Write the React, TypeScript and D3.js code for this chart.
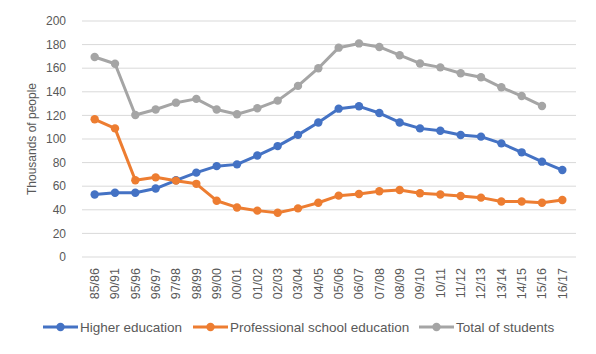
import React from 'react';
import * as d3 from 'd3';

const years = [
  '85/86', '90/91', '95/96', '96/97', '97/98', '98/99', '99/00', '00/01',
  '01/02', '02/03', '03/04', '04/05', '05/06', '06/07', '07/08', '08/09',
  '09/10', '10/11', '11/12', '12/13', '13/14', '14/15', '15/16', '16/17',
];

const higher = [
  53, 54.5, 54.5, 58, 65, 71.5, 77, 78.5, 86, 94, 103.5, 114,
  125.7, 127.7, 122, 114, 109, 107, 103.4, 102, 96.3, 88.7, 80.8, 73.7,
];

const professional = [
  116.7, 109, 65, 67.5, 64.7, 62, 47.7, 42, 39.3, 37.5, 41.2, 46,
  52, 53.4, 55.7, 56.8, 54, 53, 51.7, 50.3, 47, 47, 46, 48.3,
];

// no value for 16/17
const total = [
  169.5, 163.8, 120.3, 125, 130.8, 134, 125, 121, 126, 132.5, 145, 160,
  177.4, 181, 178, 171, 164, 160.7, 155.7, 152.3, 143.8, 136.4, 128, null,
];

const yTicks = [0, 20, 40, 60, 80, 100, 120, 140, 160, 180, 200];

const seriesList = [
  { name: 'Higher education', values: higher, color: '#4472C4' },
  { name: 'Professional school education', values: professional, color: '#ED7D31' },
  { name: 'Total of students', values: total, color: '#A5A5A5' },
];

const W = 596;
const H = 354;
const font = '"Liberation Sans", Arial, sans-serif';
const textColor = '#595959';

const App = () => {
  const x = d3.scaleBand<string>().domain(years).range([84.5, 572.5]);
  const y = d3.scaleLinear().domain([0, 200]).range([257, 21]);
  const cx = (d: string) => (x(d) as number) + x.bandwidth() / 2;

  const line = d3.line<number | null>()
    .defined(d => d != null)
    .x((d, i) => cx(years[i]))
    .y(d => y(d as number));

  const legendPos = [
    { x0: 43, text: 80 },
    { x0: 193, text: 230 },
    { x0: 419, text: 456 },
  ];

  return (
    <svg width={W} height={H} style={{ position: 'absolute', left: 0, top: 0 }} fontFamily={font}>
      <rect width={W} height={H} fill="#fff" />

      {yTicks.map(t => (
        <g key={t}>
          <line x1={82} x2={576} y1={y(t)} y2={y(t)} stroke="#D9D9D9" strokeWidth={1} />
          <text x={66} y={y(t)} dy="0.35em" textAnchor="end" fontSize={12} fill={textColor}>{t}</text>
        </g>
      ))}

      <text
        transform={`translate(36,${(y(0) + y(200)) / 2 + 0}) rotate(-90)`}
        textAnchor="middle"
        fontSize={12}
        fill={textColor}
      >
        Thousands of people
      </text>

      {years.map(d => (
        <text
          key={d}
          transform={`translate(${cx(d)},268) rotate(-90)`}
          textAnchor="end"
          dy="0.35em"
          fontSize={12.5}
          fill={textColor}
        >
          {d}
        </text>
      ))}

      {seriesList.map(s => (
        <g key={s.name}>
          <path d={line(s.values) || ''} fill="none" stroke={s.color} strokeWidth={3} strokeLinejoin="round" />
          {s.values.map((v, i) =>
            v == null ? null : <circle key={i} cx={cx(years[i])} cy={y(v)} r={4.2} fill={s.color} />
          )}
        </g>
      ))}

      {seriesList.map((s, i) => {
        const p = legendPos[i];
        return (
          <g key={s.name}>
            <line x1={p.x0} x2={p.x0 + 35} y1={327} y2={327} stroke={s.color} strokeWidth={3} />
            <circle cx={p.x0 + 17.5} cy={327} r={4.2} fill={s.color} />
            <text x={p.text} y={327} dy="0.35em" fontSize={13.5} fill={textColor}>{s.name}</text>
          </g>
        );
      })}
    </svg>
  );
};

export default App;
